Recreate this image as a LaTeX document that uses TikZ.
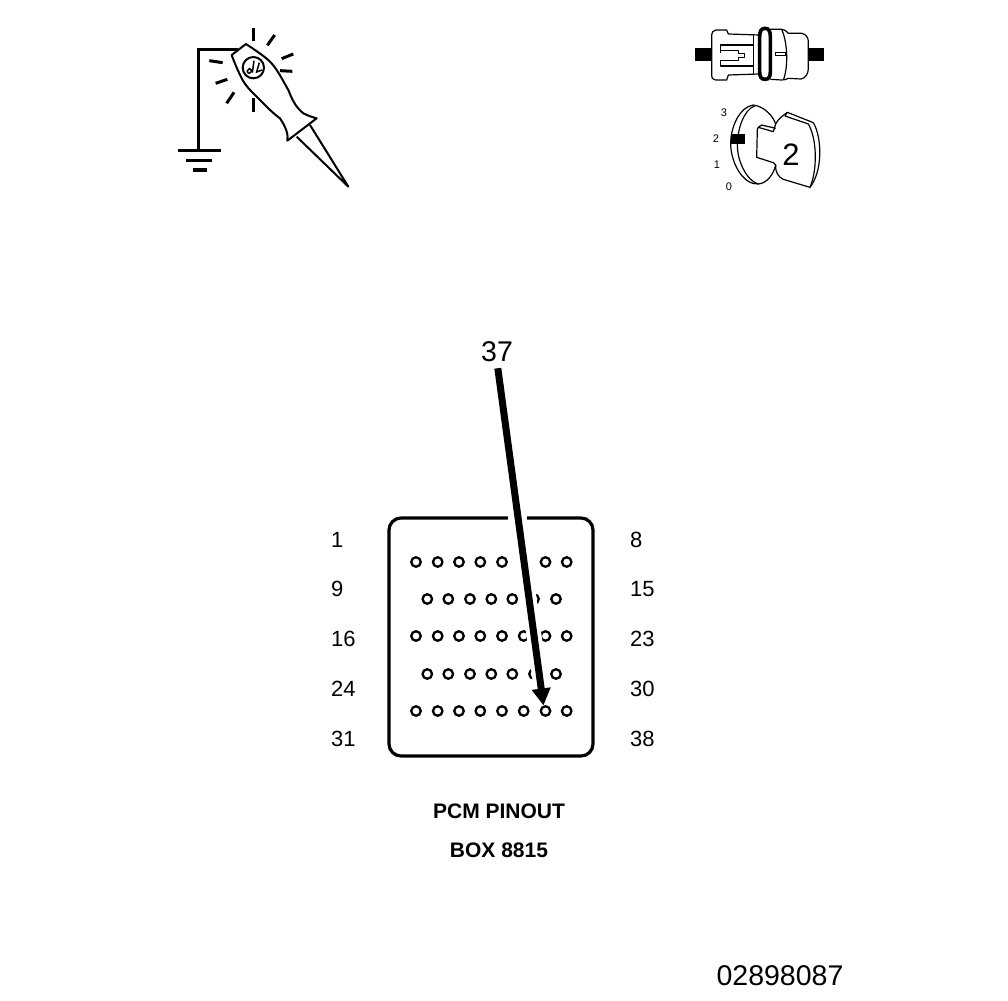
\documentclass[tikz,border=0pt]{standalone}
\usepackage{fontspec}
\setmainfont{Liberation Sans}
\usetikzlibrary{arrows.meta}
\tikzset{
  thick line/.style={line width=3.2pt},
  ray/.style={line width=3pt},
  thin line/.style={line width=1.2pt,line join=round},
  med line/.style={line width=2pt,line join=round},
  pinhole/.style={circle,draw,line width=2.3pt,minimum size=9.5pt,inner sep=0pt,fill=white},
  pinlabel/.style={anchor=west,inner sep=0pt,font=\fontsize{22}{22}\selectfont},
  title/.style={inner sep=0pt,font=\fontsize{21}{21}\selectfont\bfseries},
  bignum/.style={inner sep=0pt,font=\fontsize{28.5}{28.5}\selectfont},
  tinynum/.style={inner sep=0pt,font=\fontsize{11}{11}\selectfont},
  halo/.style={white,line width=15pt},
  pointer/.style={line width=7pt,-{Triangle[length=17pt,width=18pt]}},
  z1/.style={x=0.33333pt,y=-0.33333pt,shift={(170pt,-20pt)}},
  z2/.style={x=0.33333pt,y=-0.33333pt,shift={(685pt,-20pt)}},
  z3/.style={x=0.33333pt,y=-0.33333pt,shift={(710pt,-100pt)}}
}
\begin{document}
\begin{tikzpicture}[x=1pt,y=-1pt]
\useasboundingbox (0,0) rectangle (1008,1000);
\fill[white] (0,0) rectangle (1008,1000);

% ---- test lamp and ground
\begin{scope}[z1]
  \draw[thick line,line join=miter] (205,88) -- (85,88) -- (85,392);
  \draw[thick line] (25,392) -- (152,392);
  \draw[thick line] (48,422) -- (126,422);
  \draw[thick line] (70,450) -- (110,450);
  \foreach \a/\b in {{250,25}/{250,62},{314,45}/{292,76},{370,102}/{335,116},{367,154}/{330,152},{118,122}/{158,128},{172,178}/{137,190},{192,217}/{170,250},{250,235}/{250,275}}
    \draw[ray] (\a) -- (\b);
  \draw[med line,fill=white] (185,105) -- (228,72) .. controls (255,90) and (285,110) .. (300,125)
    .. controls (320,145) and (335,175) .. (355,210) .. controls (365,235) and (375,260) .. (400,280)
    .. controls (415,288) and (430,292) .. (440,295) -- (352,362) .. controls (355,345) and (350,325) .. (330,295)
    .. controls (315,285) and (295,265) .. (290,260) -- (245,215) .. controls (230,200) and (220,185) .. (215,175)
    .. controls (205,155) and (192,125) .. (185,105) -- cycle;
  \draw[med line] (420,315) -- (535,500) -- (380,350);
  \draw[med line] (250,143) circle (32);
  \draw[line width=1.5pt] (235,160) .. controls (245,160) and (248,148) .. (238,146) .. controls (230,148) and (230,158) .. (235,160);
  \draw[line width=1.5pt] (252,122) -- (247,158);
  \draw[line width=1.5pt] (268,128) -- (260,156) -- (276,150);
\end{scope}

% ---- connector symbol
\begin{scope}[z2]
  \fill (30,83) rectangle (80,122);
  \fill (370,83) rectangle (417,122);
  \draw[thin line] (222,45) -- (130,42) -- (125,30) -- (92,30) .. controls (85,30) and (80,38) .. (80,48)
    -- (80,165) .. controls (80,175) and (85,180) .. (92,180) -- (125,180) -- (130,165) -- (222,162);
  \draw[thin line] (205,45) -- (205,165);
  \draw[thin line] (106,100) -- (106,75) -- (205,75);
  \draw[thin line] (106,120) -- (106,138) -- (205,138);
  \draw[thin line] (106,92) -- (160,92) -- (160,100) -- (178,100) -- (178,112) -- (160,112) -- (160,122) -- (106,122);
  \draw[line width=3.6pt] (240,25) .. controls (228,25) and (224,35) .. (224,50) -- (224,155)
     .. controls (224,170) and (228,178) .. (240,178) .. controls (252,178) and (256,170) .. (256,155)
     -- (256,50) .. controls (256,35) and (252,25) .. (240,25) -- cycle;
  \draw[thin line] (256,28) -- (290,28) .. controls (300,30) and (308,35) .. (310,40) -- (350,40)
     .. controls (362,42) and (370,52) .. (370,65) -- (370,145) .. controls (370,160) and (362,175) .. (348,177)
     -- (310,175) .. controls (305,178) and (298,180) .. (290,180) -- (256,178);
  \draw[thin line] (290,28) .. controls (305,60) and (312,130) .. (296,178);
  \draw[thin line] (272,97) rectangle (303,106);
\end{scope}

% ---- ignition key
\begin{scope}[z3]
  \draw[thin line] (130,15) .. controls (90,20) and (62,80) .. (62,130) .. controls (62,190) and (100,255) .. (145,252)
     .. controls (170,250) and (190,225) .. (197,195);
  \draw[thin line] (135,17) .. controls (100,30) and (82,90) .. (82,135) .. controls (82,190) and (115,245) .. (145,252);
  \draw[thin line] (130,15) .. controls (165,20) and (190,50) .. (197,72);
  \draw[thin line] (197,72) -- (190,95) -- (145,82) -- (142,88) -- (140,172) -- (190,188) -- (197,195);
  \draw[thin line] (145,82) -- (155,75) -- (197,85);
  \draw[thin line] (197,72) .. controls (205,55) and (222,45) .. (232,37) -- (310,68)
     .. controls (335,110) and (340,210) .. (300,262) -- (220,238) .. controls (205,232) and (195,215) .. (197,195);
  \draw[thin line] (232,37) -- (225,48) -- (295,72) .. controls (322,120) and (322,210) .. (300,262);
  \fill (62,102) rectangle (105,132);
\end{scope}
\node[tinynum] (k3) at (724,113) {3};
\node[tinynum] (k2) at (716,139) {2};
\node[tinynum] (k1) at (717,165) {1};
\node[tinynum] (k0) at (729,187) {0};
\node[inner sep=0pt,font=\fontsize{31}{31}\selectfont] (keynum) at (791,155) {2};

% ---- connector face
\node[draw,line width=3.2pt,rounded corners=12pt,minimum width=204pt,minimum height=238pt,inner sep=0pt] (box) at (491,637) {};

\foreach \y/\s in {562/0,636/16,711/31}
  \foreach \x [count=\i from 1] in {416,437.7,459,480.3,502,523.7,545.5,566.7}{
    \pgfmathtruncatemacro{\n}{\s==0?\i:(\s==16?\i+15:\i+30)}
    \node[pinhole] (p\n) at (\x,\y) {};
  }
\foreach \y/\s in {599/8,674/23}
  \foreach \x [count=\i from 1] in {427.3,448.3,470,491.3,512.3,534,556}{
    \pgfmathtruncatemacro{\n}{\s+\i}
    \node[pinhole] (p\n) at (\x,\y) {};
  }

\foreach \lab/\y in {1/540,9/589,16/639,24/689,31/739}
  \node[pinlabel] (l\lab) at (331,\y) {\lab};
\foreach \lab/\y in {8/540,15/589,23/639,30/689,38/739}
  \node[pinlabel] (l\lab) at (630,\y) {\lab};

\node[bignum] (lbl37) at (497,352) {37};
\draw[white,line width=8pt] (508,518) -- (527,518);
\draw[halo,shorten <=6pt,shorten >=8pt] (lbl37.south) -- (p37.110);
\draw[pointer,shorten <=6pt] (lbl37.south) -- (p37.110);

\node[title] (t1) at (499,811) {PCM PINOUT};
\node[title] (t2) at (499,850) {BOX 8815};
\node[bignum] (docid) at (780,976) {02898087};
\end{tikzpicture}
\end{document}
